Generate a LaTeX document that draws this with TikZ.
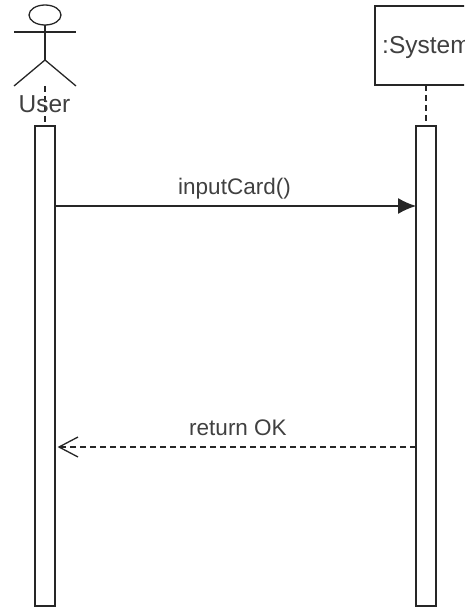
\documentclass[tikz,border=0pt]{standalone}
\usepackage{fontspec}
\setmainfont{Liberation Sans}
\usetikzlibrary{arrows.meta}
\tikzset{
  ln/.style={draw=black!85,line width=1.3pt},
  bar/.style={ln,fill=white,minimum width=20pt,minimum height=480pt,inner sep=0pt,outer sep=0pt},
  lbl/.style={font=\fontsize{22.5}{24}\selectfont,text=black!75,inner sep=0pt},
  lblbig/.style={font=\fontsize{24.5}{26}\selectfont,text=black!75,inner sep=0pt},
  life/.style={ln,dash pattern=on 6pt off 4pt},
}
\begin{document}
\begin{tikzpicture}[x=1pt,y=-1pt]
\useasboundingbox (0,0) rectangle (464,607);
\clip (0,0) rectangle (464,607);
% actor
\draw[ln] (45,15) ellipse [x radius=16,y radius=10];
\draw[ln] (14,32) -- (76,32);
\draw[ln] (45,25) -- (45,60) coordinate (hip);
\draw[ln] (14,86) -- (hip) -- (76,86);
\coordinate (actorfoot) at (45,86);
% system head
\node[ln,fill=white,minimum width=110pt,minimum height=79pt,inner sep=0pt,outer sep=0pt] (sys) at (430,45.5) {};
% activations
\node[bar] (a1) at (45,366) {};
\node[bar] (a2) at (426,366) {};
% lifelines
\draw[life] (actorfoot) -- (a1.north);
\coordinate (systop) at (426,85);
\draw[life] (systop) -- (a2.north);
% labels
\node[lblbig] (user) at (44.5,104.5) {User};
\node[lblbig,anchor=west] (systxt) at (382,47) {:System};
% messages
\coordinate (m1a) at (a1.east |- 0,206);
\coordinate (m1b) at (a2.west |- 0,206);
\draw[ln,-{Latex[length=18pt,width=16pt]}] (m1a) -- (m1b);
\node[lbl] at (234.5,189) {inputCard()};
\coordinate (m2a) at (a2.west |- 0,447);
\coordinate (m2b) at ([xshift=4pt]a1.east |- 0,447);
\draw[ln,dash pattern=on 6pt off 4pt] (m2a) -- (m2b);
\draw[ln] ([xshift=19pt,yshift=-10pt]m2b) -- (m2b) -- ([xshift=19pt,yshift=10pt]m2b);
\node[lbl] at (238,428) {return OK};
\end{tikzpicture}
\end{document}
